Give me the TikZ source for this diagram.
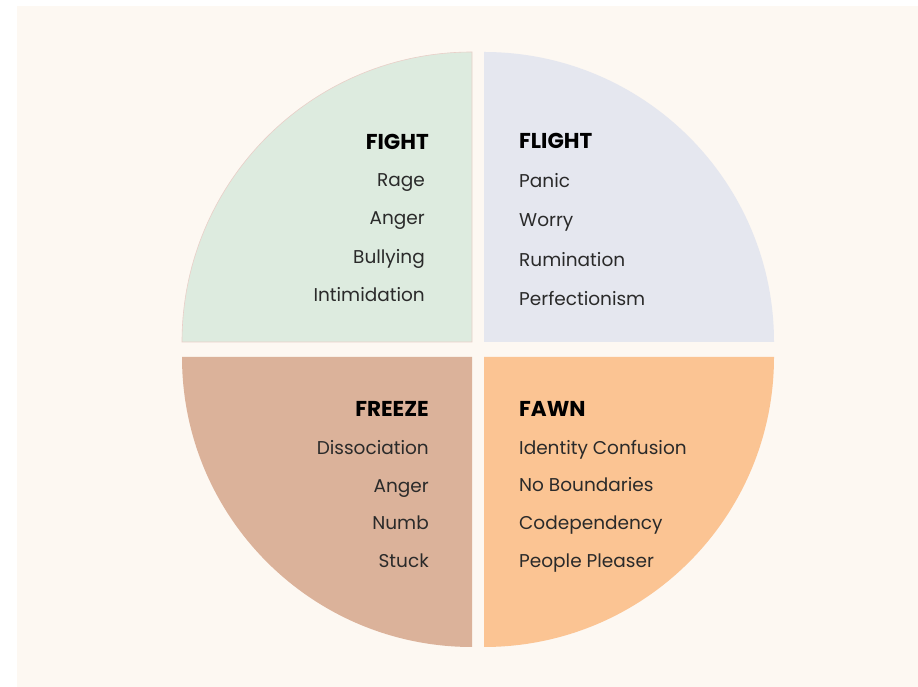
\documentclass[tikz,border=0pt]{standalone}
\usepackage{fontspec}
\setmainfont{Poppins}
\definecolor{cream}{HTML}{FDF8F2}
\definecolor{fightc}{HTML}{DDEBDF}
\definecolor{fightline}{HTML}{E9CFC8}
\definecolor{flightc}{HTML}{E5E7EF}
\definecolor{freezec}{HTML}{DBB29A}
\definecolor{fawnc}{HTML}{FBC493}
\definecolor{txt}{HTML}{2A2A2A}
\begin{document}
\begin{tikzpicture}[x=1pt,y=1pt,
  title/.style={font=\fontsize{21.5}{21.5}\selectfont\bfseries, text=black, inner sep=0pt},
  item/.style={font=\fontsize{18.5}{18.5}\selectfont, text=txt, inner sep=0pt},
  quad/.style={draw=none}]
\useasboundingbox (0,0) rectangle (918,687);
\fill[white] (0,0) rectangle (918,687);
\fill[cream] (17,0) rectangle (918,681);
% quadrants
\path[fill=fightc, draw=fightline, line width=0.6pt] (472,345) -- (182,345) arc[start angle=180, end angle=90, radius=290] -- cycle;
\path[fill=flightc] (484,345) -- (484,635) arc[start angle=90, end angle=0, radius=290] -- cycle;
\path[fill=freezec] (472,330) -- (182,330) arc[start angle=180, end angle=270, radius=290] -- cycle;
\path[fill=fawnc] (484,330) -- (774,330) arc[start angle=0, end angle=-90, radius=290] -- cycle;
% FIGHT
\node[title, anchor=base east] (fight) at (429,537) {FIGHT};
\node[item, anchor=base east] (rage) at (425,500) {Rage};
\node[item, anchor=base east] (anger1) at (425,462) {Anger};
\node[item, anchor=base east] (bully) at (425,423) {Bullying};
\node[item, anchor=base east] (intim) at (425,385) {Intimidation};
% FLIGHT
\node[title, anchor=base west] (flight) at (519,538) {FLIGHT};
\node[item, anchor=base west] (panic) at (519,499) {Panic};
\node[item, anchor=base west] (worry) at (519,460) {Worry};
\node[item, anchor=base west] (rumin) at (519,420) {Rumination};
\node[item, anchor=base west] (perf) at (519,381) {Perfectionism};
% FREEZE
\node[title, anchor=base east] (freeze) at (429,270) {FREEZE};
\node[item, anchor=base east] (dissoc) at (429,232) {Dissociation};
\node[item, anchor=base east] (anger2) at (429,194) {Anger};
\node[item, anchor=base east] (numb) at (429,157) {Numb};
\node[item, anchor=base east] (stuck) at (429,119) {Stuck};
% FAWN
\node[title, anchor=base west] (fawn) at (519,270) {FAWN};
\node[item, anchor=base west] (ident) at (519,232) {Identity Confusion};
\node[item, anchor=base west] (nobound) at (519,195) {No Boundaries};
\node[item, anchor=base west] (codep) at (519,157) {Codependency};
\node[item, anchor=base west] (people) at (519,119) {People Pleaser};
\end{tikzpicture}
\end{document}
